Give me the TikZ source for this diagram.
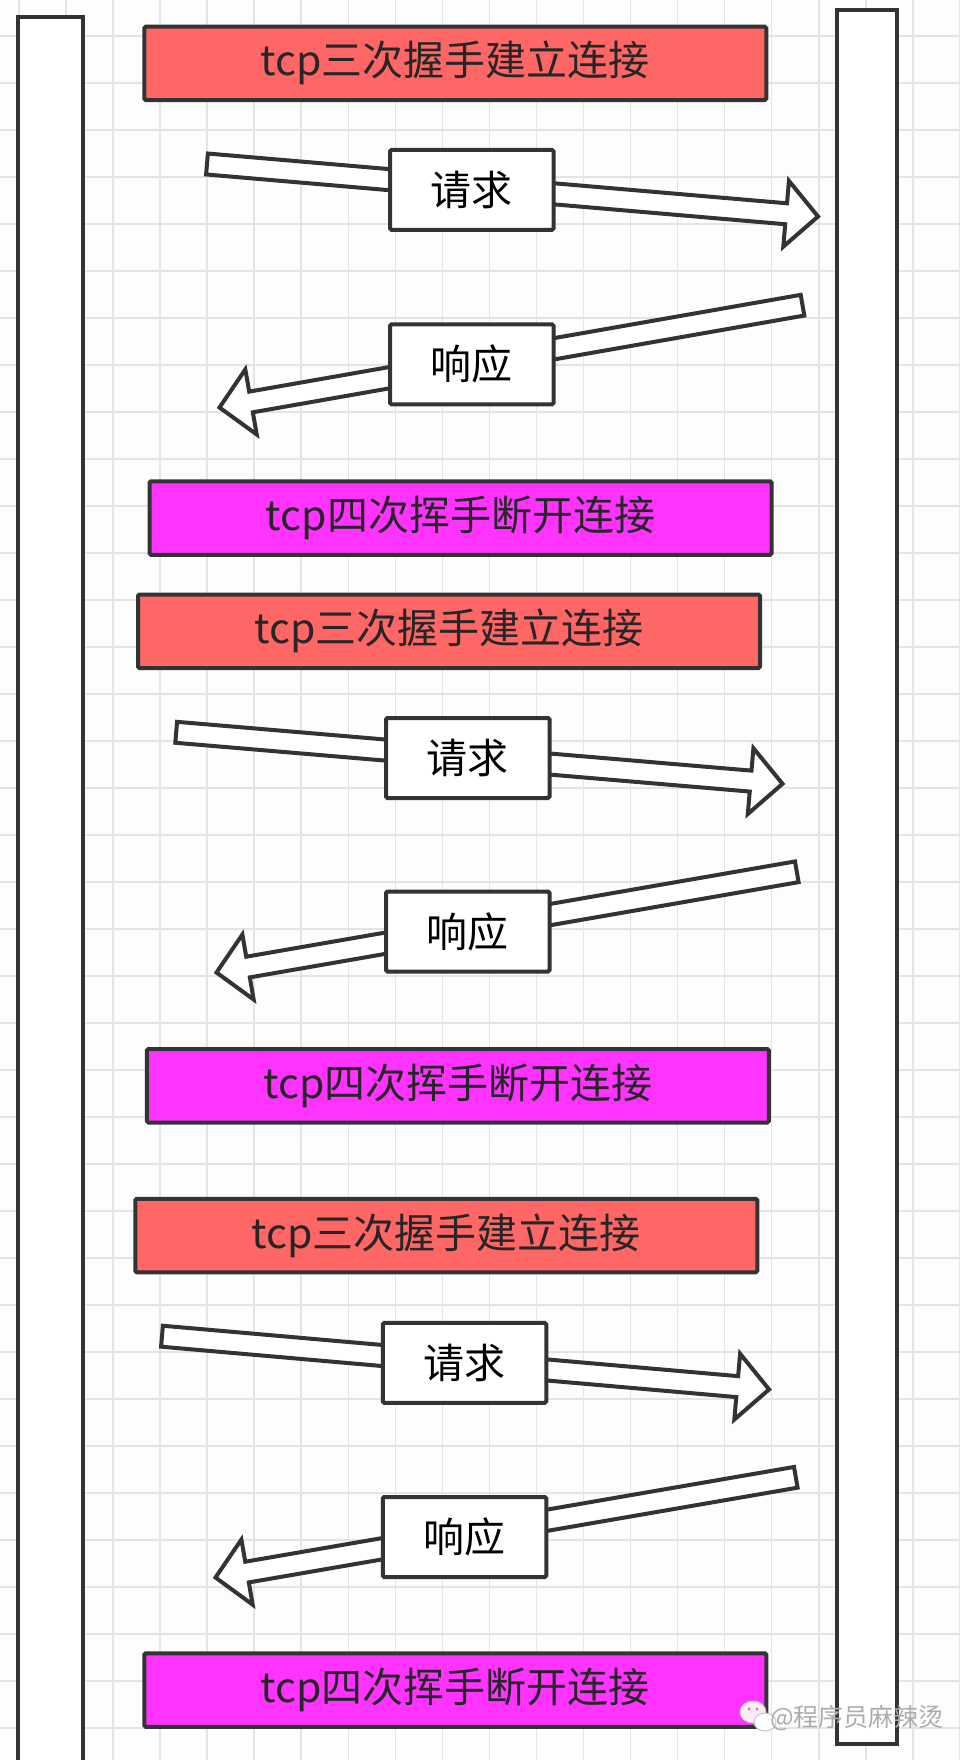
\documentclass[tikz,border=0pt]{standalone}
\usepackage{fontspec}
\newfontfamily\cjk{Noto Sans CJK SC}
\usetikzlibrary{calc}
\definecolor{ink}{RGB}{51,51,51}
\definecolor{redfill}{RGB}{255,102,102}
\definecolor{magfill}{RGB}{255,51,255}
\definecolor{gridc}{RGB}{228,228,228}
\definecolor{paper}{RGB}{253,253,253}
\newcommand\flexarrow[3]{%
  \coordinate (#3b) at ($(#2)!32pt!(#1)$);
  \draw[flexa] ($(#1)!10.5pt!90:(#2)$) -- ($(#3b)!10.5pt!90:(#2)$) -- ($(#3b)!33pt!90:(#2)$) -- (#2)
     -- ($(#3b)!33pt!-90:(#2)$) -- ($(#3b)!10.5pt!-90:(#2)$) -- ($(#1)!10.5pt!-90:(#2)$) -- cycle;
}
\begin{document}
\begin{tikzpicture}[x=1pt,y=-1pt,
  bar/.style={draw=ink, line width=4pt, fill=white, inner sep=0pt},
  banner/.style={draw=ink, line width=4pt, minimum width=622pt, minimum height=73.5pt,
     inner sep=0pt, font=\cjk\fontsize{41}{48}\selectfont, text=black!85, rounded corners=1.5pt},
  openbanner/.style={banner, fill=redfill},
  closebanner/.style={banner, fill=magfill},
  msgbox/.style={draw=ink, line width=4pt, fill=white, minimum width=163.5pt, minimum height=80pt,
     inner sep=0pt, font=\cjk\fontsize{41}{48}\selectfont, text=black, rounded corners=1.5pt},
  flexa/.style={draw=ink, line width=4pt, fill=white, line join=miter},
  gridline/.style={draw=gridc, line width=1.5pt},
]
\useasboundingbox (0,0) rectangle (960,1760);
\fill[paper] (0,0) rectangle (960,1760);
% grid
\foreach \k in {-2,...,18} \draw[gridline] ({113+47.05*\k},0) -- ({113+47.05*\k},1760);
\foreach \k in {-3,...,33} \draw[gridline] (0,{177+47.0*\k}) -- (960,{177+47.0*\k});

% lifelines
\node[bar, minimum width=65.2pt, minimum height=1770pt, anchor=north west] (client) at (15.5,14.7) {};
\node[bar, minimum width=60pt, minimum height=1734pt, anchor=north west] (server) at (835,7.7) {};

% arrows
\coordinate (q1t) at (207,164);     \coordinate (q1p) at (818,216.5);
\coordinate (r1t) at (802.5,305.2); \coordinate (r1p) at (219.5,407.5);
\coordinate (q2t) at (176.2,732.3); \coordinate (q2p) at (782.5,783.8);
\coordinate (r2t) at (796.8,871.8); \coordinate (r2p) at (216.5,972.5);
\coordinate (q3t) at (162,1336.2);  \coordinate (q3p) at (769.1,1389.4);
\coordinate (r3t) at (795.8,1477.3);\coordinate (r3p) at (215.5,1577.5);
\flexarrow{q1t}{q1p}{q1}
\flexarrow{r1t}{r1p}{r1}
\flexarrow{q2t}{q2p}{q2}
\flexarrow{r2t}{r2p}{r2}
\flexarrow{q3t}{q3p}{q3}
\flexarrow{r3t}{r3p}{r3}

% block 1
\node[openbanner] (open1) at (455.25,63.35) {tcp三次握手建立连接};
\node[msgbox] (req1) at (471.75,189.85) {请求};
\node[msgbox] (resp1) at (471.75,364.35) {响应};
\node[closebanner] (close1) at (460.5,518) {tcp四次挥手断开连接};
% block 2
\node[openbanner] (open2) at (449,631.25) {tcp三次握手建立连接};
\node[msgbox] (req2) at (467.75,758) {请求};
\node[msgbox] (resp2) at (467.75,931.5) {响应};
\node[closebanner] (close2) at (457.85,1085.75) {tcp四次挥手断开连接};
% block 3
\node[openbanner] (open3) at (446.25,1235.5) {tcp三次握手建立连接};
\node[msgbox] (req3) at (464.5,1362.85) {请求};
\node[msgbox] (resp3) at (464.5,1537) {响应};
\node[closebanner] (close3) at (455.25,1690) {tcp四次挥手断开连接};

% watermark
\draw[gray!45, fill=white!92!magenta, line width=1pt] (753,1712) ellipse [x radius=13, y radius=11];
\draw[gray!45, fill=white, line width=1pt] (765,1722) ellipse [x radius=11, y radius=9];
\fill[magenta!60] (749,1709) circle (1.6) (757,1709) circle (1.6);
\node[font=\cjk\fontsize{25}{30}\selectfont, text=gray!65, anchor=west, inner sep=0pt] (wm) at (770,1718) {@程序员麻辣烫};
\end{tikzpicture}
\end{document}
